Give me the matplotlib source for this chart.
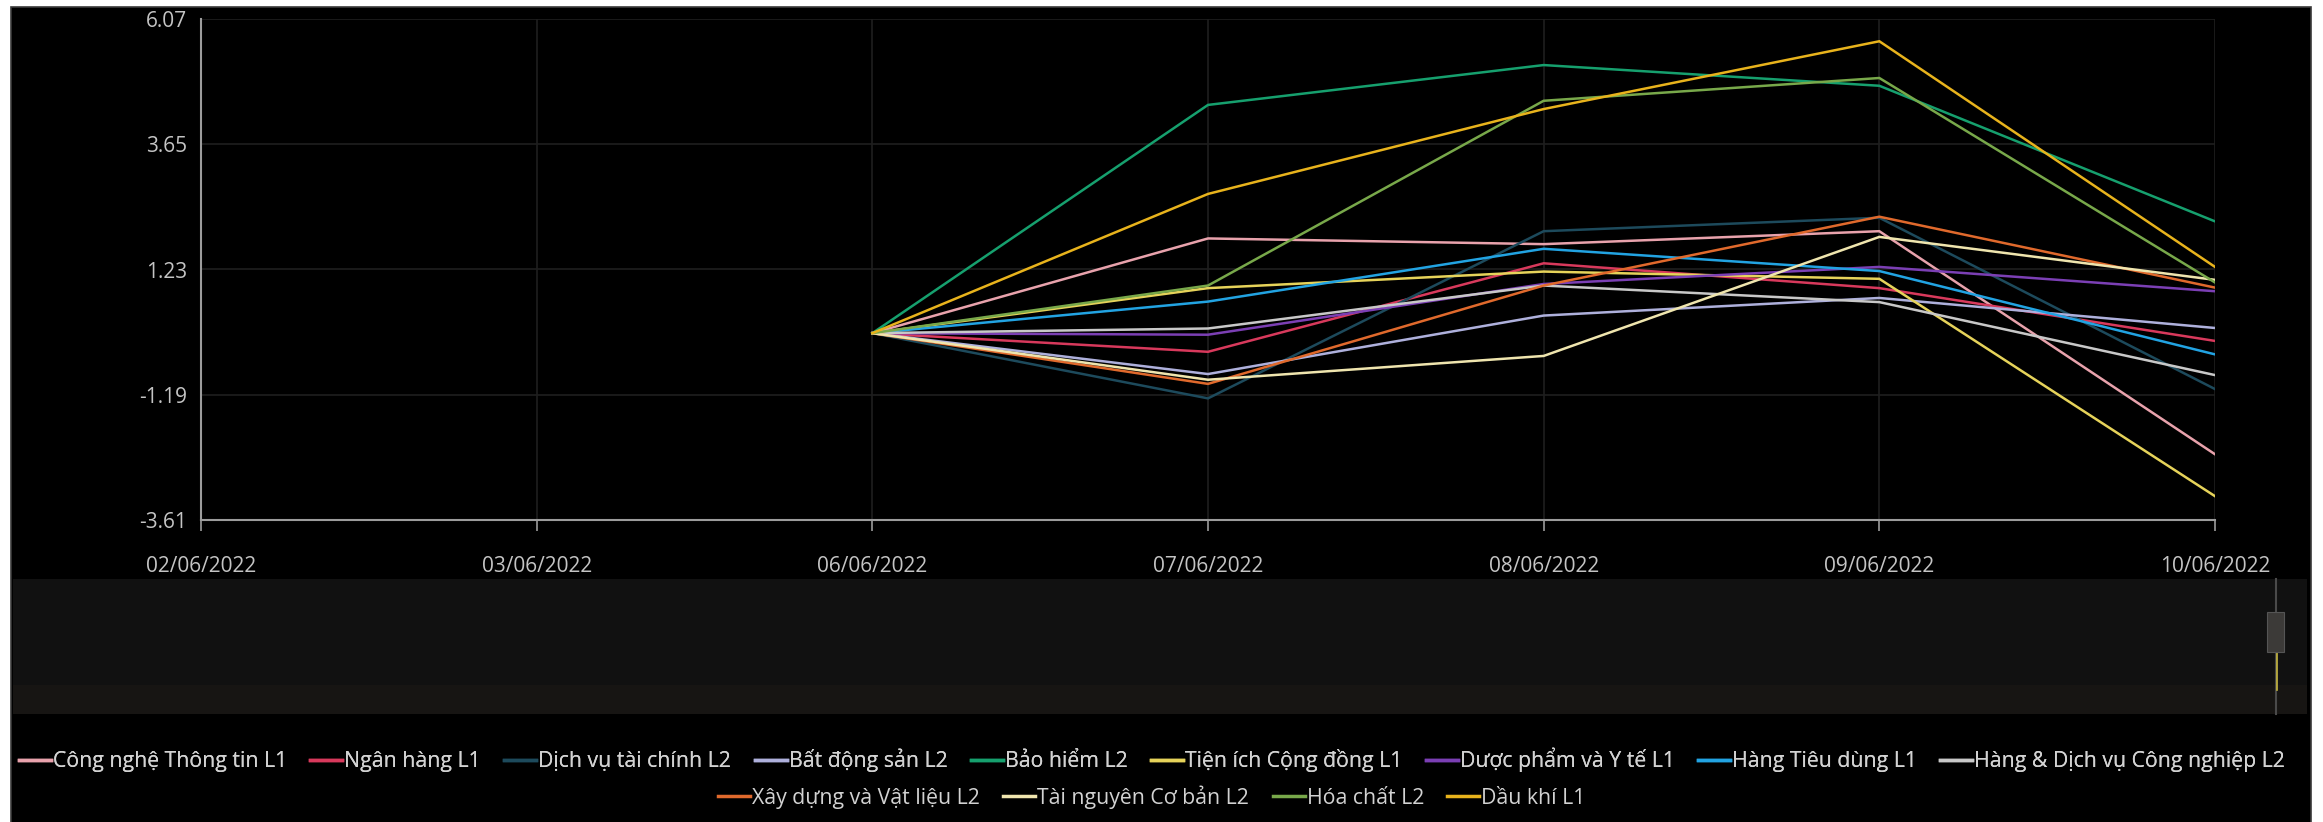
import numpy as np
import matplotlib
matplotlib.use("Agg")
import matplotlib.pyplot as plt
from matplotlib.patches import Rectangle
from matplotlib.lines import Line2D

plt.rcParams['font.family'] = ['Open Sans', 'DejaVu Sans']

# dates on the x axis (categorical)
dates = ['02/06/2022', '03/06/2022', '06/06/2022', '07/06/2022',
         '08/06/2022', '09/06/2022', '10/06/2022']
# series only have data from 06/06 onward
nan = np.nan
cong_nghe = [nan, nan, 0, 1.83, 1.72, 1.97, -2.34]
ngan_hang = [nan, nan, 0, -0.36, 1.35, 0.87, -0.15]
dich_vu_tc = [nan, nan, 0, -1.26, 1.97, 2.23, -1.08]
bat_dong_san = [nan, nan, 0, -0.79, 0.34, 0.68, 0.10]
bao_hiem = [nan, nan, 0, 4.41, 5.18, 4.78, 2.16]
tien_ich = [nan, nan, 0, 0.87, 1.19, 1.05, -3.15]
duoc_pham = [nan, nan, 0, -0.03, 0.95, 1.28, 0.81]
hang_tieu_dung = [nan, nan, 0, 0.61, 1.63, 1.20, -0.41]
hang_dv_cn = [nan, nan, 0, 0.09, 0.92, 0.60, -0.81]
xay_dung = [nan, nan, 0, -0.98, 0.92, 2.25, 0.88]
tai_nguyen = [nan, nan, 0, -0.90, -0.44, 1.86, 1.03]
hoa_chat = [nan, nan, 0, 0.92, 4.49, 4.93, 0.98]
dau_khi = [nan, nan, 0, 2.69, 4.33, 5.64, 1.28]

names = ['Công nghệ Thông tin L1', 'Ngân hàng L1', 'Dịch vụ tài chính L2',
         'Bất động sản L2', 'Bảo hiểm L2', 'Tiện ích Cộng đồng L1',
         'Dược phẩm và Y tế L1', 'Hàng Tiêu dùng L1',
         'Hàng & Dịch vụ Công nghiệp L2', 'Xây dựng và Vật liệu L2',
         'Tài nguyên Cơ bản L2', 'Hóa chất L2', 'Dầu khí L1']
series = [cong_nghe, ngan_hang, dich_vu_tc, bat_dong_san, bao_hiem, tien_ich,
          duoc_pham, hang_tieu_dung, hang_dv_cn, xay_dung, tai_nguyen,
          hoa_chat, dau_khi]
colors = ['#e8a2ac', '#d8395c', '#1d4a5c', '#aeb0dc', '#16a06e', '#e6d35a',
          '#7b3fb4', '#22a3e2', '#c8c8c8', '#e0692c', '#efe5ae', '#78a84a',
          '#e8b31c']

yticks = [-3.61, -1.19, 1.23, 3.65, 6.07]

W, H = 2323, 822
fig = plt.figure(figsize=(W / 100, H / 100), dpi=100, facecolor='white')

# dark panel behind everything
fig.patches.append(Rectangle((11 / W, -0.01), (2311 - 11) / W, (H - 7) / H + 0.01,
                             transform=fig.transFigure, facecolor='black',
                             edgecolor='#3a3a3a', lw=1.2, zorder=-3))
# range slider strip
fig.patches.append(Rectangle((13 / W, 1 - 685 / H), (2307 - 13) / W, 106 / H,
                             transform=fig.transFigure, facecolor='#111111',
                             edgecolor='none', zorder=-2))
fig.patches.append(Rectangle((13 / W, 1 - 714 / H), (2307 - 13) / W, 29 / H,
                             transform=fig.transFigure, facecolor='#171513',
                             edgecolor='none', zorder=-2))
fig.lines.append(Line2D([2276 / W, 2276 / W], [1 - 579 / H, 1 - 714 / H],
                        transform=fig.transFigure, color='#4a4a4a', lw=1.5, zorder=-1))
fig.patches.append(Rectangle((2267 / W, 1 - 652 / H), 17 / W, 40 / H,
                             transform=fig.transFigure, facecolor='#3c3a38',
                             edgecolor='#555555', lw=0.8, zorder=-1))
fig.lines.append(Line2D([2277 / W, 2277 / W], [1 - 652 / H, 1 - 690 / H],
                        transform=fig.transFigure, color='#c8b840', lw=1.2, zorder=-1))

ax = fig.add_axes([201 / W, 1 - 520 / H, (2215 - 201) / W, (520 - 19) / H])
ax.set_facecolor('black')
ax.set_zorder(1)

x = np.arange(len(dates))
for vals, c in zip(series, colors):
    ax.plot(x, vals, color=c, lw=1.8, solid_joinstyle='miter', zorder=3)

ax.set_xlim(0, len(dates) - 1)
ax.set_ylim(yticks[0], yticks[-1])
ax.set_xticks(x)
ax.set_xticklabels(dates)
ax.set_yticks(yticks)
ax.set_yticklabels(['%.2f' % v for v in yticks])

ax.grid(True, color='#1f1f1f', lw=1.2, zorder=0)
for s in ['top', 'right']:
    ax.spines[s].set_visible(False)
for s in ['left', 'bottom']:
    ax.spines[s].set_color('#9c9c9c')
    ax.spines[s].set_linewidth(1.5)
ax.tick_params(axis='x', colors='#9c9c9c', length=8, width=1.2, pad=18,
               labelcolor='#c4c4c4', labelsize=15)
ax.tick_params(axis='y', length=0, pad=10, labelcolor='#c4c4c4', labelsize=15)

# legend: two centred rows
handles = [Line2D([], [], color=c, lw=2.5) for c in colors]
kw = dict(loc='center', frameon=False, handlelength=1.5, handletextpad=0.1,
          columnspacing=1.1, fontsize=15.3, labelcolor='#d2d2d2',
          borderpad=0, borderaxespad=0)
leg1 = fig.legend(handles[:9], names[:9], ncol=9,
                  bbox_to_anchor=(1152 / W, 1 - 760 / H), **kw)
fig.add_artist(leg1)
fig.legend(handles[9:], names[9:], ncol=4,
           bbox_to_anchor=(1152 / W, 1 - 797 / H), **kw)

fig.savefig('out.png', dpi=100, facecolor='white')
